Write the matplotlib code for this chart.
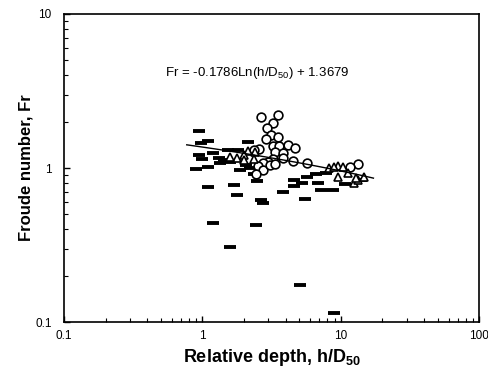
import numpy as np
import matplotlib
matplotlib.use("Agg")
import matplotlib.pyplot as plt
from matplotlib.ticker import LogLocator, NullFormatter, FixedLocator, FixedFormatter

plt.rcParams["font.family"] = ["Liberation Sans", "DejaVu Sans"]
plt.rcParams["mathtext.fontset"] = "custom"
plt.rcParams["mathtext.rm"] = "Liberation Sans"
plt.rcParams["mathtext.bf"] = "Liberation Sans:bold"

# dash markers (filled bars)
dash_x = [0.95, 1.09, 0.97, 2.15, 0.95, 1.00, 1.20, 1.31, 1.35, 0.905, 1.09, 1.52,
          1.59, 2.22, 2.34, 2.46, 1.105, 1.68, 1.79, 2.63, 2.76, 3.79, 4.55, 4.55,
          5.47, 5.65, 5.28, 6.67, 6.79, 7.13, 8.71, 7.75, 1.20, 2.42, 1.57, 5.03,
          8.86, 10.8, 13.9, 1.82, 2.05, 1.88, 1.42]
dash_y = [1.74, 1.50, 1.45, 1.47, 1.21, 1.14, 1.25, 1.16, 1.08, 0.985, 1.015, 1.31,
          1.09, 1.00, 0.914, 0.823, 0.753, 0.776, 0.668, 0.620, 0.593, 0.699, 0.836, 0.764,
          0.629, 0.874, 0.799, 0.914, 0.799, 0.720, 0.720, 0.928, 0.440, 0.427, 0.307, 0.174,
          0.114, 0.787, 0.836, 1.31, 1.05, 0.97, 1.12]

# open circles
circ_x = [2.63, 3.54, 3.26, 2.95, 3.15, 2.90, 3.54, 4.12, 4.63, 3.26, 3.60, 2.58,
          2.34, 3.37, 3.85, 3.85, 3.26, 3.00, 2.72, 2.54, 2.72, 2.42, 4.48, 5.74,
          3.10, 3.37, 13.2, 11.7]
circ_y = [2.14, 2.21, 1.96, 1.82, 1.64, 1.54, 1.59, 1.41, 1.35, 1.39, 1.39, 1.33,
          1.31, 1.27, 1.25, 1.16, 1.14, 1.09, 1.08, 1.03, 0.97, 0.914, 1.11, 1.08,
          1.05, 1.06, 1.06, 1.015]

# open triangles
tri_x = [2.15, 2.38, 1.79, 1.98, 1.98, 2.34, 1.59, 8.15, 9.47, 10.3, 9.6, 11.2,
         12.4, 13.4, 14.6, 12.8, 8.86]
tri_y = [1.29, 1.27, 1.16, 1.21, 1.13, 1.14, 1.18, 1.00, 1.03, 1.015, 0.874, 0.928,
         0.799, 0.836, 0.874, 0.861, 1.015]

# log trendline shown on the chart
fit_a, fit_b = -0.1786, 1.3679
fit_range = [0.77, 17.2]

fig = plt.figure(figsize=(4.89, 3.78), dpi=100)
ax = fig.add_axes([0.131, 0.148, 0.849, 0.815])

ax.plot(dash_x, dash_y, ls="none", marker="_", ms=8.2, mew=2.8, color="black")
ax.plot(circ_x, circ_y, ls="none", marker="o", ms=6.3, mfc="white", mec="black", mew=1.2)
ax.plot(tri_x, tri_y, ls="none", marker="^", ms=6.3, mfc="white", mec="black", mew=1.2)

xf = np.geomspace(fit_range[0], fit_range[1], 60)
ax.plot(xf, fit_a * np.log(xf) + fit_b, color="black", lw=1.0)

ax.set_xscale("log"); ax.set_yscale("log")
ax.set_xlim(0.1, 100); ax.set_ylim(0.1, 10)

ax.xaxis.set_major_locator(FixedLocator([0.1, 1, 10, 100]))
ax.xaxis.set_major_formatter(FixedFormatter(["0.1", "1", "10", "100"]))
ax.yaxis.set_major_locator(FixedLocator([0.1, 1, 10]))
ax.yaxis.set_major_formatter(FixedFormatter(["0.1", "1", "10"]))
ax.xaxis.set_minor_locator(LogLocator(base=10, subs=np.arange(2, 10)))
ax.yaxis.set_minor_locator(LogLocator(base=10, subs=np.arange(2, 10)))
ax.xaxis.set_minor_formatter(NullFormatter())
ax.yaxis.set_minor_formatter(NullFormatter())
ax.tick_params(which="both", direction="in", top=False, right=False, labelsize=8.5)
ax.tick_params(axis="x", which="major", pad=6)
ax.tick_params(axis="y", which="major", pad=9)
ax.tick_params(which="major", length=4, width=1)
ax.tick_params(which="minor", length=3, width=0.8)
for sp in ax.spines.values():
    sp.set_linewidth(1.2)

ax.set_xlabel(r"Relative depth, h/D$_{\mathbf{50}}$", fontsize=13, fontweight="bold", labelpad=3)
ax.set_ylabel("Froude number, Fr", fontsize=12, fontweight="bold", labelpad=1)

ax.text(0.465, 0.81, r"Fr = -0.1786Ln(h/D$_{50}$) + 1.3679", transform=ax.transAxes,
        fontsize=9.5, ha="center", va="center")

fig.savefig("out.png", dpi=100)
